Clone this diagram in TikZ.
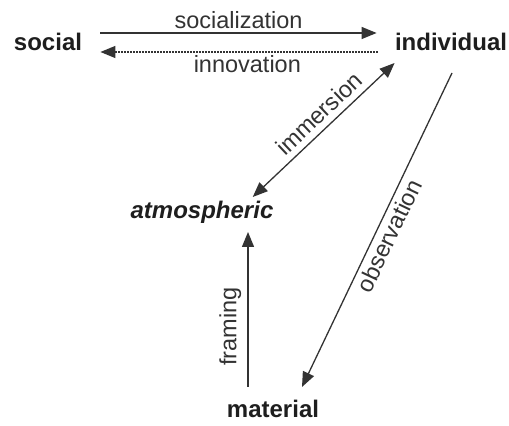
\documentclass[tikz,border=0pt]{standalone}
\usepackage{fontspec}
\setmainfont{Liberation Sans}
\usetikzlibrary{arrows.meta,calc}
\definecolor{ink}{HTML}{333333}
\definecolor{termink}{HTML}{1E1E1E}
\tikzset{
  term/.style={inner sep=0pt, anchor=base, text=termink,
    font=\fontsize{12}{14}\selectfont\bfseries},
  flow/.style={draw=ink, line width=0.65pt,
    -{Triangle[length=7.5pt,width=6pt]}},
  backflow/.style={flow, dash pattern=on 0.6pt off 0.9pt},
  both/.style={flow, {Triangle[length=7.5pt,width=6pt]}-{Triangle[length=7.5pt,width=6pt]}},
  lab/.style={text=ink, font=\fontsize{11.75}{14}\selectfont}
}
\begin{document}
\begin{tikzpicture}[x=0.5pt,y=-0.5pt]
  \useasboundingbox (0,0) rectangle (509,426);
  \fill[white] (0,0) rectangle (509,426);

  % the four terms
  \node[term] (social) at (48,51) {social};
  \node[term] (individual) at (451,51) {individual};
  \node[term] (atmospheric) at (202,219) {\itshape atmospheric};
  \node[term] (material) at (273,418) {material};

  % social <-> individual
  \draw[flow] ($(social.base east)+(18,-18)$) -- ($(individual.base west)+(-18,-18)$)
    node[lab, midway, above, inner sep=2pt] {socialization};
  \draw[backflow] ($(individual.base west)+(-17,1)$) -- ($(social.base east)+(18,1)$)
    node[lab, pos=0.47, below, inner sep=1.5pt] {innovation};

  % individual <-> atmospheric
  \draw[both] ($(individual.base west)+(0,12)$) -- ($(atmospheric.base east)+(-21,-22)$)
    node[lab, pos=0.46, sloped, above, inner sep=3pt] {immersion};

  % individual -> material
  \draw[flow] ($(individual.base)+(1,22)$) -- ($(material.base)+(29,-31)$)
    node[lab, pos=0.5, sloped, below, inner sep=2pt] {observation};

  % material -> atmospheric
  \draw[flow] ($(material.base)+(-25,-31)$) -- ($(atmospheric.base)+(46,13)$)
    node[lab, pos=0.39, sloped, above, inner sep=3pt] {framing};
\end{tikzpicture}
\end{document}
